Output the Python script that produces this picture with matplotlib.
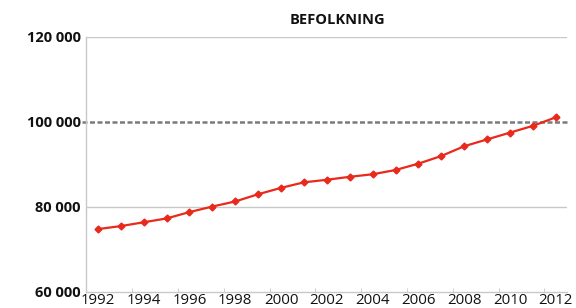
import matplotlib
matplotlib.use("Agg")
import matplotlib.pyplot as plt
import numpy as np

plt.rcParams["font.family"] = ["Open Sans", "DejaVu Sans"]

# data
years = list(range(1992, 2013))
population = [74800, 75500, 76400, 77300, 78800, 80100, 81300, 83000, 84500,
              85800, 86400, 87100, 87700, 88700, 90200, 92000, 94300, 95900,
              97500, 99100, 101100]
ref_level = 100000
y_ticks = [60000, 80000, 100000, 120000]
x_labels = years[::2]

LINE_RED = "#e8291c"
GRID = "#c8c8c8"

fig = plt.figure(figsize=(5.76, 3.08), dpi=100)
ax = fig.add_axes([0.150, 0.052, 0.835, 0.828])

ax.plot(years, population, color=LINE_RED, lw=1.6, marker="D", ms=3.5,
        mec=LINE_RED, mfc=LINE_RED, zorder=3)

# grid lines (solid) and the dashed reference line
for v in y_ticks:
    if v in (80000, 120000):
        ax.axhline(v, color=GRID, lw=1.0, zorder=1)
ax.axhline(ref_level, color="#7a7a7a", lw=1.8, ls=(0, (2.0, 1.0)), zorder=2,
           xmin=-0.01, clip_on=False)

ax.set_xlim(years[0] - 0.5, years[-1] + 0.5)
ax.set_ylim(60000, 120000)

ax.set_yticks(y_ticks)
ax.set_yticklabels([f"{v:,}".replace(",", " ") for v in y_ticks],
                   fontsize=10.5, fontweight="bold", color="#111111")
ax.tick_params(axis="y", length=0, pad=4)

ax.set_xticks(x_labels)
ax.set_xticklabels([str(y) for y in x_labels], fontsize=10.8, color="#111111")
ax.tick_params(axis="x", which="major", length=0, pad=0.5)
ax.set_xticks(np.arange(years[0] - 0.5, years[-1] + 1, 2), minor=True)
ax.tick_params(axis="x", which="minor", length=3, direction="in", color=GRID)

for side in ("top", "right"):
    ax.spines[side].set_visible(False)
for side in ("left", "bottom"):
    ax.spines[side].set_color(GRID)
    ax.spines[side].set_linewidth(1.0)

fig.text(0.585, 0.935, "BEFOLKNING", ha="center", va="center",
         fontsize=10.5, fontweight="bold", color="#111111")

fig.savefig("out.png", dpi=100)
